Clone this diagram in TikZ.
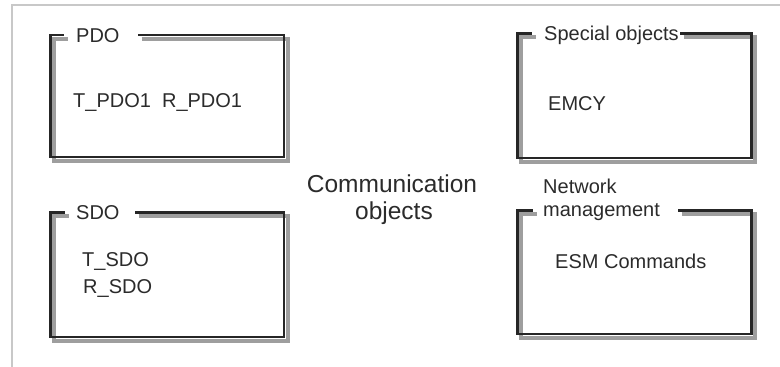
\documentclass[tikz,border=0pt]{standalone}
\usepackage{fontspec}
\setmainfont{Liberation Sans}
\definecolor{txt}{HTML}{2B2B2B}
\definecolor{shd}{HTML}{9E9E9E}
\definecolor{frm}{HTML}{C8C8C8}
\tikzset{
  boxline/.style={draw=black!85, line width=2.8pt, line join=miter, line cap=butt},
  boxshadow/.style={draw=shd, line width=4pt, line join=miter, line cap=butt},
  lbl/.style={anchor=base west, inner sep=0pt, text=txt, font=\fontsize{20}{24}\selectfont},
  big/.style={anchor=base, inner sep=0pt, text=txt, font=\fontsize{24.5}{28}\selectfont},
}
% #1 left, #2 top, #3 right, #4 bottom, #5 gap left, #6 gap right
\newcommand\objframe[6]{%
  \draw[boxshadow, shift={(3.5,3.5)}] (#6,#2) -- (#3,#2) -- (#3,#4) -- (#1,#4) -- (#1,#2) -- (#5,#2);
  \draw[boxline] (#6,#2) -- (#3,#2) -- (#3,#4) -- (#1,#4) -- (#1,#2) -- (#5,#2);
}
\begin{document}
\begin{tikzpicture}[x=1pt,y=-1pt]
\useasboundingbox (0,0) rectangle (780,367);
\fill[white] (0,0) rectangle (780,367);
% outer frame (open on right and bottom)
\coordinate (fbl) at (12,367);
\coordinate (ftl) at (12,5);
\coordinate (ftr) at (780,5);
\draw[frm, line width=1.6pt] (fbl) -- (ftl) -- (ftr);
% boxes
\objframe{50.5}{35}{284}{157}{64}{138}
\objframe{50.5}{212.3}{284}{337}{65}{135}
\objframe{517.5}{33.3}{751.3}{158}{532}{680}
\objframe{517.5}{210.7}{751.3}{334}{533}{678}
% titles
\node[lbl] (pdo) at (76,42) {PDO};
\node[lbl] (sdo) at (76,219.5) {SDO};
\node[lbl] (spec) at (544,40.5) {Special objects};
\node[lbl] (net1) at (543,193) {Network};
\node[lbl] (net2) at (543,216) {management};
% contents
\node[lbl] (pdo1) at (73,107) {T\_PDO1\ \ R\_PDO1};
\node[lbl] (tsdo) at (82,266) {T\_SDO};
\node[lbl] (rsdo) at (83,293) {R\_SDO};
\node[lbl] (emcy) at (548,110) {EMCY};
\node[lbl] (esm) at (555,268) {ESM Commands};
% centre
\node[big] (comm1) at (392,192) {Communication};
\node[big] (comm2) at (394,219.5) {objects};
\end{tikzpicture}
\end{document}
